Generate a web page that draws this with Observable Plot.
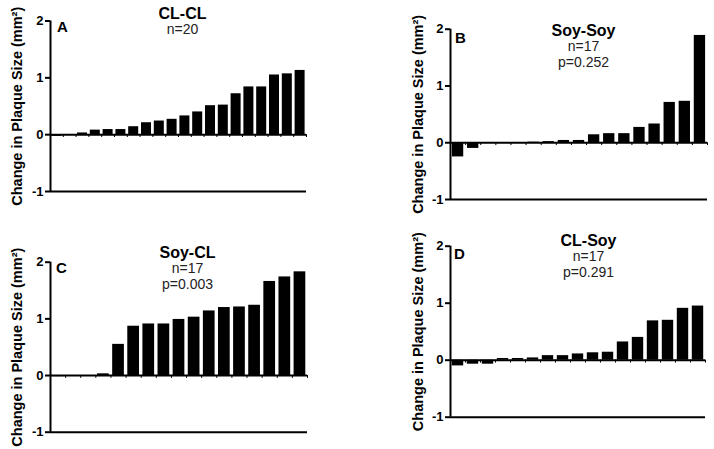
<!DOCTYPE html>
<html>
<head>
<meta charset="utf-8">
<script src="https://cdn.jsdelivr.net/npm/d3@7"></script>
<script src="https://cdn.jsdelivr.net/npm/@observablehq/plot@0.6"></script>
<style>
  html, body { margin: 0; padding: 0; background: #fff; }
  #wrap { position: relative; width: 714px; height: 449px; overflow: hidden; background: #fff; }
  #wrap > svg { position: absolute; }
</style>
</head>
<body>
<div id="wrap"></div>
<script>
// ---- data ----
const valuesA = [-0.03, -0.01, 0.03, 0.08, 0.09, 0.09, 0.14, 0.21, 0.24, 0.27, 0.33, 0.40, 0.51, 0.52, 0.72, 0.84, 0.84, 1.05, 1.07, 1.13];
const valuesB = [-0.25, -0.10, 0, -0.01, -0.01, 0.01, 0.02, 0.04, 0.04, 0.14, 0.16, 0.16, 0.27, 0.33, 0.71, 0.73, 1.89];
const valuesC = [-0.02, 0, 0, 0.03, 0.55, 0.87, 0.91, 0.91, 0.99, 1.03, 1.14, 1.20, 1.21, 1.24, 1.66, 1.74, 1.83];
const valuesD = [-0.10, -0.07, -0.07, 0.03, 0.03, 0.04, 0.08, 0.08, 0.11, 0.13, 0.14, 0.32, 0.40, 0.69, 0.70, 0.91, 0.95];
const panelLetters = ["A", "B", "C", "D"];
const panelTitles = ["CL-CL", "Soy-Soy", "Soy-CL", "CL-Soy"];
const panelNotes = [["n=20"], ["n=17", "p=0.252"], ["n=17", "p=0.003"], ["n=17", "p=0.291"]];
const yTicks = [-1, 0, 1, 2];
const yLabel = "Change in Plaque Size (mm²)";

// ---- layout (positions/sizes) ----
const layouts = [
  {left: 0,   top: 0,   width: 357, height: 220, mL: 50, mR: 51, mT: 20.5, mB: 29,   inset: 1.4, tdx: 132, tdy: -7.5, ldx: 12, ldy: 6.5, labdx: -33},
  {left: 357, top: 0,   width: 357, height: 225, mL: 93, mR: 7,  mT: 28.7, mB: 26,   inset: 1.9, tdx: 133, tdy: 1.3,  ldx: 10, ldy: 9.3, labdx: -32},
  {left: 0,   top: 225, width: 357, height: 224, mL: 50, mR: 50, mT: 36.7, mB: 17.3, inset: 1.7, tdx: 137, tdy: -9.7, ldx: 11, ldy: 6.3, labdx: -33},
  {left: 357, top: 225, width: 357, height: 224, mL: 93, mR: 9,  mT: 20.7, mB: 32.3, inset: 1.8, tdx: 138, tdy: -5.7, ldx: 9,  ldy: 8.3, labdx: -32}
];
const allValues = [valuesA, valuesB, valuesC, valuesD];

const font = "'Liberation Sans', Arial, sans-serif";
const wrap = document.getElementById("wrap");

allValues.forEach((values, k) => {
  const L = layouts[k];
  const n = values.length;
  const data = values.map((v, i) => ({i, v}));
  const notes = panelNotes[k];
  const chart = Plot.plot({
    width: L.width,
    height: L.height,
    marginLeft: L.mL,
    marginRight: L.mR,
    marginTop: L.mT,
    marginBottom: L.mB,
    x: {domain: [0, n], axis: null},
    y: {domain: [-1, 2], label: null},
    style: {fontFamily: font, fontSize: "13px", fontWeight: "bold", color: "#000", background: "transparent", overflow: "visible"},
    marks: [
      Plot.rectY(data, {x1: "i", x2: d => d.i + 1, y1: 0, y2: "v", fill: "#000", insetLeft: L.inset, insetRight: L.inset}),
      Plot.ruleX(d3.range(1, n + 1), {y1: 0, y2: -0.05, stroke: "#000", strokeWidth: 1}),
      Plot.ruleY([0], {stroke: "#000", strokeWidth: 2}),
      Plot.ruleY([-1], {stroke: "#000", strokeWidth: 2}),
      Plot.ruleX([0], {y1: -1, y2: 2, stroke: "#000", strokeWidth: 2}),
      Plot.axisY({ticks: yTicks, tickFormat: d => String(d), tickSize: 5, tickPadding: 2, strokeWidth: 2, fontSize: 13, fontWeight: "bold", label: null, fill: "#000"}),
      Plot.text([yLabel], {text: d => d, frameAnchor: "left", textAnchor: "middle", lineAnchor: "middle", rotate: -90, dx: L.labdx, fontSize: 14.5, fontWeight: "bold", fill: "#000"}),
      Plot.text([panelTitles[k]], {text: d => d, frameAnchor: "top-left", textAnchor: "middle", lineAnchor: "middle", dx: L.tdx, dy: L.tdy, fontSize: 16, fontWeight: "bold", fill: "#000"}),
      ...notes.map((t, j) => Plot.text([t], {text: d => d, frameAnchor: "top-left", textAnchor: "middle", lineAnchor: "middle", dx: L.tdx, dy: L.tdy + 16 + 16.3 * j, fontSize: 14, fontWeight: "normal", fill: "#222"})),
      Plot.text([panelLetters[k]], {text: d => d, frameAnchor: "top-left", textAnchor: "middle", lineAnchor: "middle", dx: L.ldx, dy: L.ldy, fontSize: 15, fontWeight: "bold", fill: "#000"})
    ]
  });
  chart.style.left = L.left + "px";
  chart.style.top = L.top + "px";
  wrap.appendChild(chart);
});
</script>
</body>
</html>
